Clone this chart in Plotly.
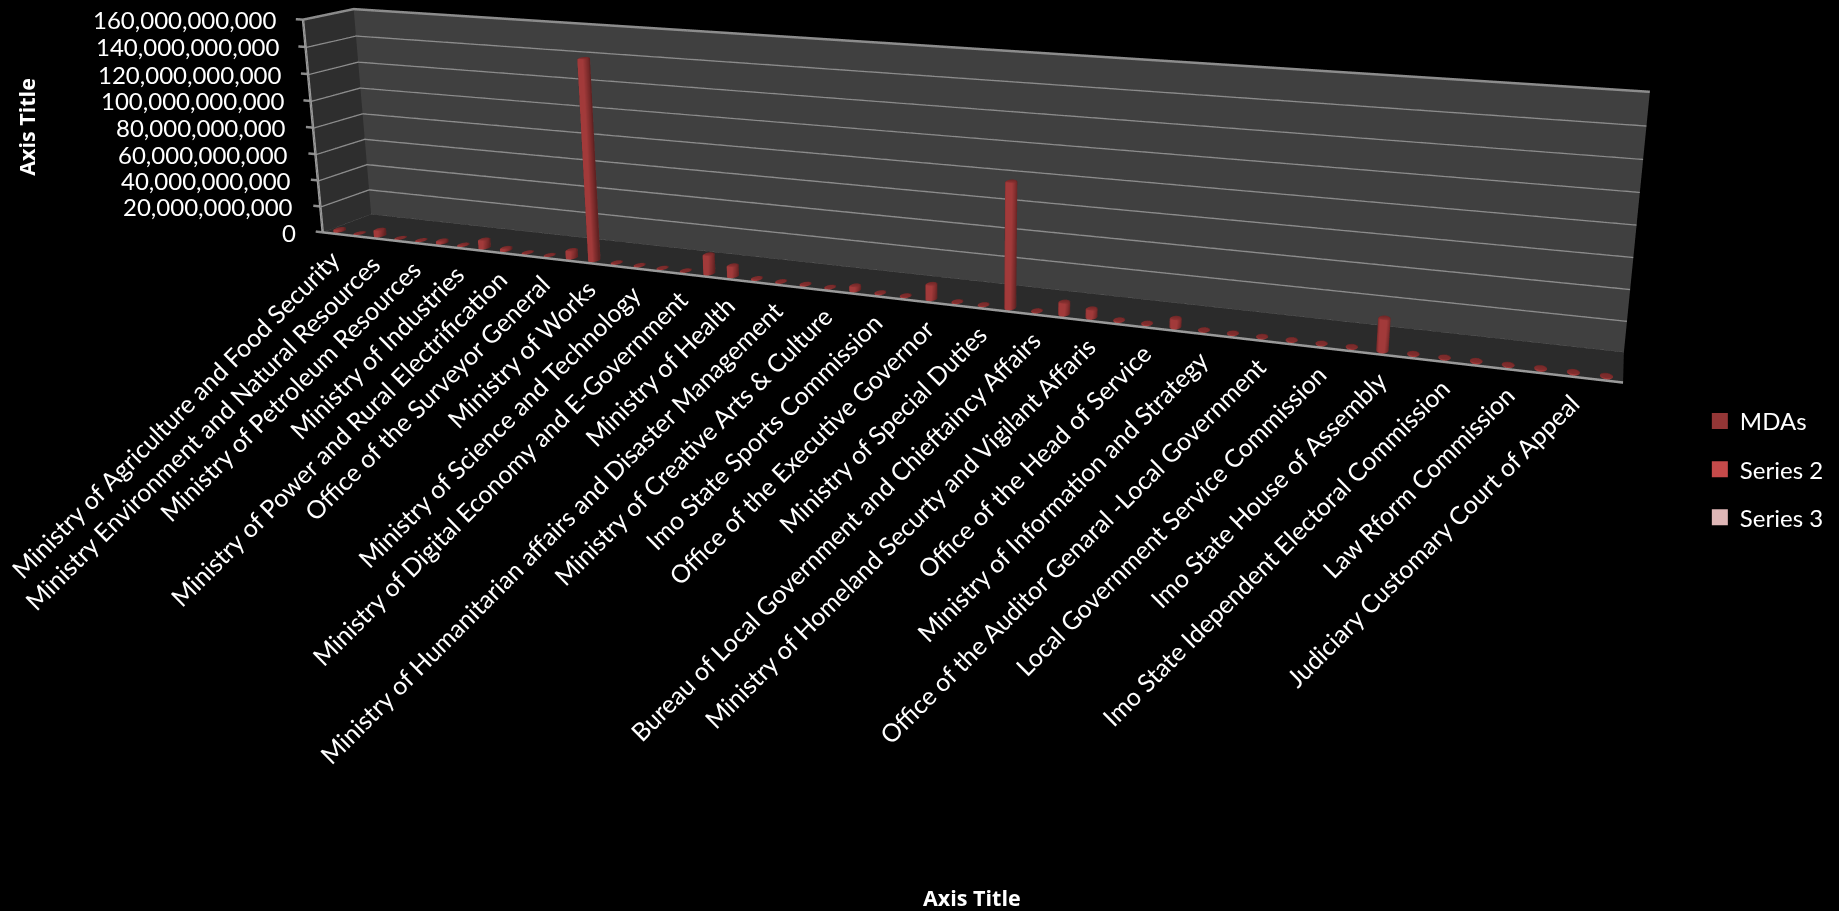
import numpy as np
import plotly.graph_objects as go

labels = ["Ministry of Agriculture and Food Security","Ministry Environment and Natural Resources","Ministry of Petroleum Resources","Ministry of Industries","Ministry of Power and Rural Electrification","Office of the Surveyor General","Ministry of Works","Ministry of Science and Technology","Ministry of Digital Economy and E-Government","Ministry of Health","Ministry of Humanitarian affairs and Disaster Management","Ministry of Creative Arts & Culture","Imo State Sports Commission","Office of the Executive Governor","Ministry of Special Duties","Bureau of Local Government and Chieftaincy Affairs","Ministry of Homeland Securty and Vigilant Affaris","Office of the Head of Service","Ministry of Information and Strategy","Office of the Auditor Genaral -Local Government","Local Government Service Commission","Imo State House of Assembly","Imo State Idependent Electoral Commission","Law Rform Commission","Judiciary Customary Court of Appeal"]
values_bn = [2,0.3,5,0.2,0.5,2.2,0.8,6.5,2,0.3,0.1,6,145,0.5,0.4,0.2,0.2,14,8,0.7,0.3,0.5,0.2,3.5,0.5,0.3,10.5,0.2,0.3,85,0.2,8.5,6,0.5,0.4,6,0.2,0.3,0.2,0.3,0.2,0.3,21,0.4,0.3,0.5,0.2,0.6,0.5,0.3]
z_ticks = [0,20,40,60,80,100,120,140,160]

SW,SH=1839,911
# camera solved once against the reference box corners
e=np.array([1.89916,-4.63749,1.21383]);ce=np.array([0.21979,-0.05096,-0.04909])
up=[-0.02335,0.05788,1.0];AX=4.0;ay,az=0.24335,0.69929
F,px,py=1774.38,968.59,198.14

H_=2*F/2.41421
W_=2*max(px,SW-px)
LEFT=px-W_/2; TOP=py-H_/2

Y0=-0.25; Y1=1.05
n=len(values_bn)
ZM=160e9; ZP=1e9; XP=0.5
shift=np.array([0,(0.5-(Y0+Y1)/2)*ay,0])
eye=e+shift;cen=ce+shift

values=[v*1e9 for v in values_bn]
cats=np.arange(1,n+1)-0.5
YB=0.14
data=[]
def flat(xs,ys,zs,i,j,k,color):
    return go.Mesh3d(x=xs,y=ys,z=zs,i=i,j=j,k=k,color=color,flatshading=True,lighting=dict(ambient=1,diffuse=0,specular=0,fresnel=0),hoverinfo="skip",showlegend=False)
data.append(flat([0,n,n,0],[1,1,1,1],[0,0,ZM,ZM],[0,0],[1,2],[2,3],"#404040"))
data.append(flat([0,0,0,0],[0,1,1,0],[0,0,ZM,ZM],[0,0],[1,2],[2,3],"#2e2e2e"))
data.append(flat([0,n,n,0],[0,0,1,1],[0,0,0,0],[0,0],[1,2],[2,3],"#2b2b2b"))
gx,gy,gz=[],[],[]
for t in z_ticks:
    v=t*1e9
    gx+=[n,0,0,-0.35,None];gy+=[1,1,0,0,None];gz+=[v,v,v,v,None]
data.append(go.Scatter3d(x=gx,y=gy,z=gz,mode="lines",line=dict(color="#8c8c8c",width=5),hoverinfo="skip",showlegend=False))
data.append(go.Scatter3d(x=[0,n,None,0,0],y=[0,0,None,0,0],z=[0,0,None,0,ZM],mode="lines",line=dict(color="#9a9a9a",width=5),hoverinfo="skip",showlegend=False))
NS=24;RX=0.2;RY=0.1
vx,vy,vz,ii,jj,kk=[],[],[],[],[],[]
th=np.linspace(0,2*np.pi,NS,endpoint=False)
for cx,v in zip(cats,values):
    b=len(vx)
    cap=min(v,1.2e9)
    for lvl,(zz,sc) in enumerate([(0,1),(v-cap*0.5,1),(v,0.72)]):
        vx+=list(cx+RX*sc*np.cos(th));vy+=list(YB+RY*sc*np.sin(th));vz+=[zz]*NS
    tip=len(vx);vx.append(cx);vy.append(YB);vz.append(v)
    for l in range(2):
        for s in range(NS):
            a=b+l*NS+s;a2=b+l*NS+(s+1)%NS;c1=a+NS;c2=a2+NS
            ii+=[a,a2];jj+=[a2,c2];kk+=[c1,c1]
    for s in range(NS):
        ii.append(b+2*NS+s);jj.append(b+2*NS+(s+1)%NS);kk.append(tip)
data.append(go.Mesh3d(x=vx,y=vy,z=vz,i=ii,j=jj,k=kk,color="#a03838",flatshading=False,lighting=dict(ambient=0.6,diffuse=0.5,specular=0.05,roughness=0.8,fresnel=0),lightposition=dict(x=2000,y=-5000,z=1200),hoverinfo="skip",showlegend=False))
for nm,col in [("MDAs","#943636"),("Series 2","#c64a4a"),("Series 3","#dfb6b6")]:
    data.append(go.Scatter3d(x=[0],y=[0],z=[None],mode="markers",name=nm,legendgroup=nm,marker=dict(symbol="square",size=16,color=col),hoverinfo="skip"))
fig=go.Figure(data)
ann=[]
for t in z_ticks:
    ann.append(dict(x=0,y=0,z=t*1e9,text=f"{t*1000000000:,}",showarrow=False,xanchor="right",yanchor="middle",xshift=-25,font=dict(color="white",size=24,family="Lato")))
for idx,l in enumerate(labels):
    ann.append(dict(x=cats[idx*2],y=0,z=0,text=l,showarrow=False,textangle=-45,xanchor="right",yanchor="top",xshift=15,yshift=-8,font=dict(color="white",size=25,family="Lato")))
hid=dict(visible=False,showgrid=False,zeroline=False,showticklabels=False,showspikes=False,showbackground=False,autorange=False)
def fx(x): return (x-LEFT)/W_
def fy(y): return 1-(y-TOP)/H_
fig.update_layout(width=W_,height=H_,paper_bgcolor="black",plot_bgcolor="black",margin=dict(l=0,r=0,t=0,b=0),
  scene=dict(domain=dict(x=[0,1],y=[0,1]),bgcolor="black",dragmode="orbit",
    xaxis=dict(range=[-XP,n+XP],**hid),yaxis=dict(range=[Y0,Y1],**hid),zaxis=dict(range=[-ZP,ZM+ZP],**hid),
    aspectmode="manual",aspectratio=dict(x=AX*(n+2*XP)/n,y=float(ay*(Y1-Y0)),z=float(az*(ZM+2*ZP)/ZM)),
    camera=dict(eye=dict(x=eye[0],y=eye[1],z=eye[2]),center=dict(x=cen[0],y=cen[1],z=cen[2]),up=dict(x=up[0],y=up[1],z=up[2]),projection=dict(type="perspective")),
    annotations=ann),
  legend=dict(x=fx(1700),y=fy(399),xanchor="left",yanchor="top",font=dict(color="white",size=24,family="Lato"),tracegroupgap=14,bgcolor="rgba(0,0,0,0)"),
  annotations=[dict(xref="paper",yref="paper",x=fx(972),y=fy(898),text="<b>Axis Title</b>",xanchor="center",yanchor="middle",showarrow=False,font=dict(color="white",size=21.5,family="Open Sans")),
    dict(xref="paper",yref="paper",x=fx(27),y=fy(127),text="<b>Axis Title</b>",xanchor="center",yanchor="middle",textangle=-90,showarrow=False,font=dict(color="white",size=21.5,family="Open Sans"))])
post=("document.documentElement.style.overflow='hidden';document.documentElement.style.background='black';"
"document.body.style.margin='0';document.body.style.overflow='hidden';document.body.style.background='black';"
"var gd=document.getElementById('{plot_id}');gd.style.position='absolute';gd.style.left='%fpx';gd.style.top='%fpx';"%(LEFT,TOP))
fig.write_html("out.html",post_script=post,default_width="%fpx"%W_,default_height="%fpx"%H_)
